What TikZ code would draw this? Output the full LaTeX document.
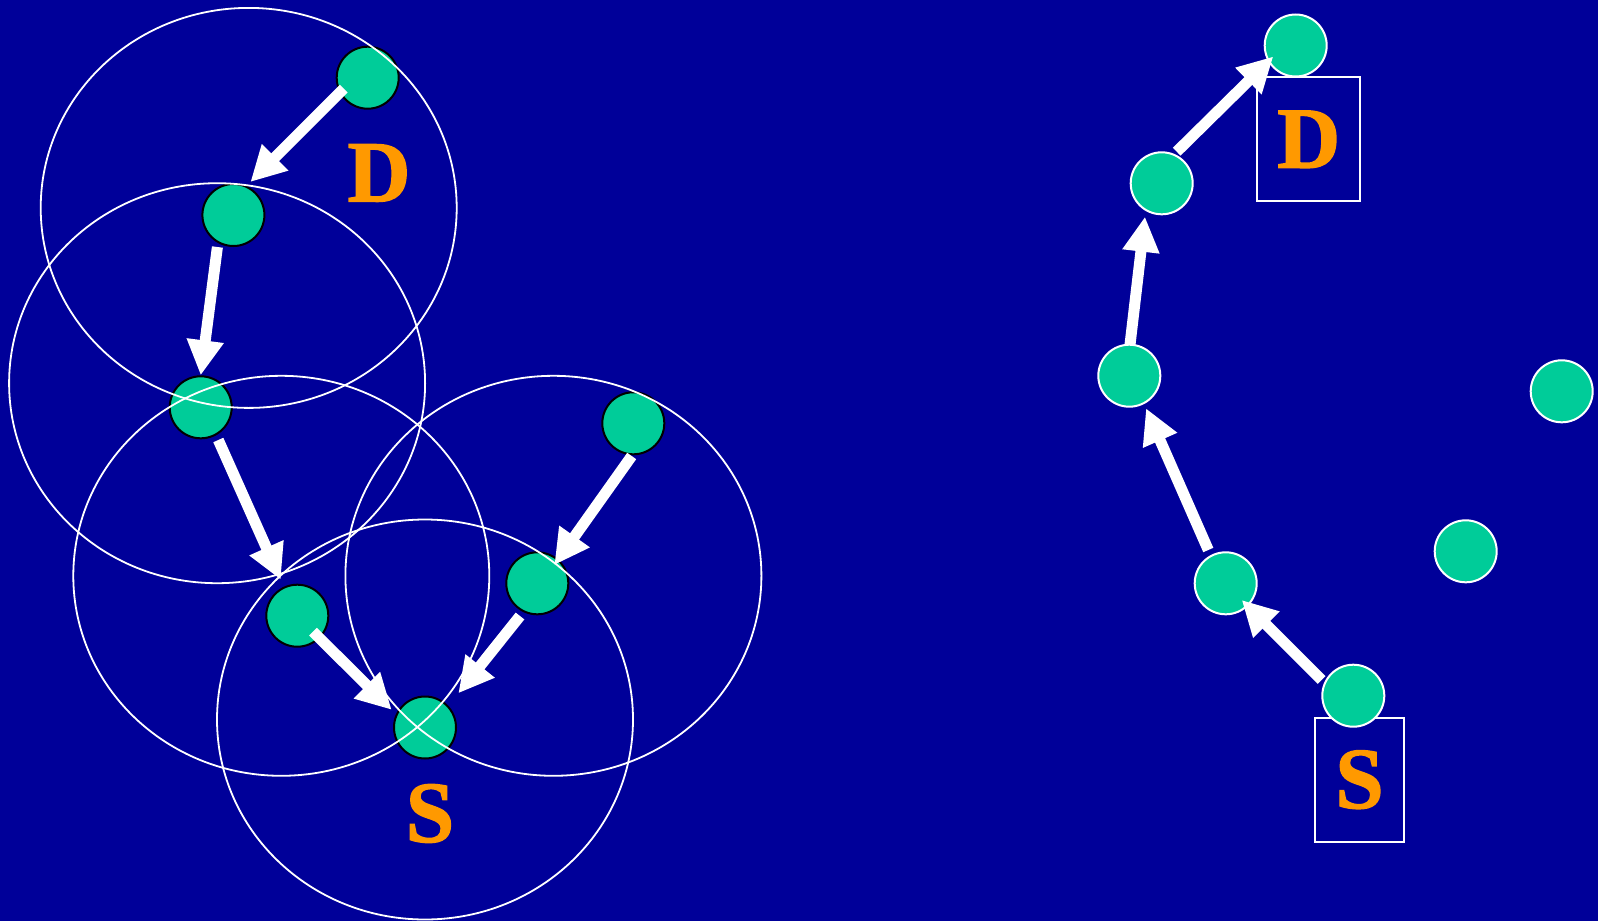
\documentclass[tikz,border=0pt]{standalone}
\usepackage{fontspec}
\setmainfont{Liberation Serif}
\newfontfamily\tagfont{Liberation Serif}[FakeBold=1.6]
\usetikzlibrary{arrows.meta}
\definecolor{bgblue}{HTML}{000099}
\definecolor{nodegreen}{HTML}{00CC99}
\definecolor{labelorange}{HTML}{FF9900}
\tikzset{
  hostL/.style={circle, fill=nodegreen, draw=black, line width=2pt,
    minimum size=62pt, inner sep=0pt},
  hostR/.style={hostL, draw=white},
  radiorange/.style={draw=white, line width=1.8pt},
  hop/.style={draw=white, line width=11pt,
    -{Triangle[length=35pt,width=35pt]}},
  tag/.style={text=labelorange, inner sep=0pt,
    font=\tagfont\bfseries\fontsize{87}{87}\selectfont},
  tagbox/.style={tag, draw=white, line width=2pt}
}
\begin{document}
\begin{tikzpicture}[x=1pt,y=-1pt]
\fill[bgblue] (0,0) rectangle (1598,921);
\useasboundingbox (0,0) rectangle (1598,921);

% ---- flooding: every host rebroadcasts ----
\node[hostL] (n1) at (367.7,77.7) {};
\node[hostL] (n2) at (233.4,215) {};
\node[hostL] (n3) at (200.7,407.3) {};
\node[hostL] (n4) at (633.3,423.3) {};
\node[hostL] (n5) at (297.3,615.7) {};
\node[hostL] (n6) at (537.3,583.3) {};
\node[hostL] (s1) at (425,727.5) {};

% transmission ranges
\draw[radiorange] (248.7,207.9) ellipse [x radius=208pt, y radius=200pt];
\draw[radiorange] (217.1,383.2) ellipse [x radius=208pt, y radius=200pt];
\draw[radiorange] (281.3,575.8) ellipse [x radius=208pt, y radius=200pt];
\draw[radiorange] (553.4,575.8) ellipse [x radius=208pt, y radius=200pt];
\draw[radiorange] (425,719.5) ellipse [x radius=208pt, y radius=200pt];

\node[tag] (dl) at (379,173) {D};
\node[tag] (sl) at (430,813.5) {S};

\draw[hop] ([shift={(-24,11)}]n1.center) -- ([shift={(17,-33)}]n2.center);
\draw[hop] ([shift={(-16,32)}]n2.center) -- ([shift={(0,-32)}]n3.center);
\draw[hop] ([shift={(17.6,32.7)}]n3.center) -- ([shift={(-16.6,-36)}]n5.center);
\draw[hop] ([shift={(15.7,16)}]n5.center) -- ([shift={(-33.3,-17.7)}]s1.center);
\draw[hop] ([shift={(-1.6,32.7)}]n4.center) -- ([shift={(17,-18.3)}]n6.center);
\draw[hop] ([shift={(-17.3,32.7)}]n6.center) -- ([shift={(33.3,-34.2)}]s1.center);

% ---- route reply along a single path ----
\node[tagbox, minimum width=103pt, minimum height=124pt] (dr) at (1308.8,139.3) {D};
\node[tagbox, minimum width=89pt, minimum height=124pt] (sr) at (1359.5,779.7) {S};

\node[hostR] (r1) at (1295.7,45.5) {};
\node[hostR] (r2) at (1161.7,183.3) {};
\node[hostR] (r3) at (1129.3,375.7) {};
\node[hostR] (r4) at (1561.7,391.3) {};
\node[hostR] (r5) at (1465.7,551.3) {};
\node[hostR] (r6) at (1225.7,583.3) {};
\node[hostR] (r7) at (1353.3,695.7) {};

\draw[hop] ([shift={(-31.6,-15.7)}]r7.center) -- ([shift={(16,16.7)}]r6.center);
\draw[hop] ([shift={(-17.4,-33.3)}]r6.center) -- ([shift={(16.7,32.6)}]r3.center);
\draw[hop] ([shift={(0.7,-31)}]r3.center) -- ([shift={(-16.7,33.4)}]r2.center);
\draw[hop] ([shift={(15,-31.6)}]r2.center) -- ([shift={(-22.4,11)}]r1.center);
\end{tikzpicture}
\end{document}
